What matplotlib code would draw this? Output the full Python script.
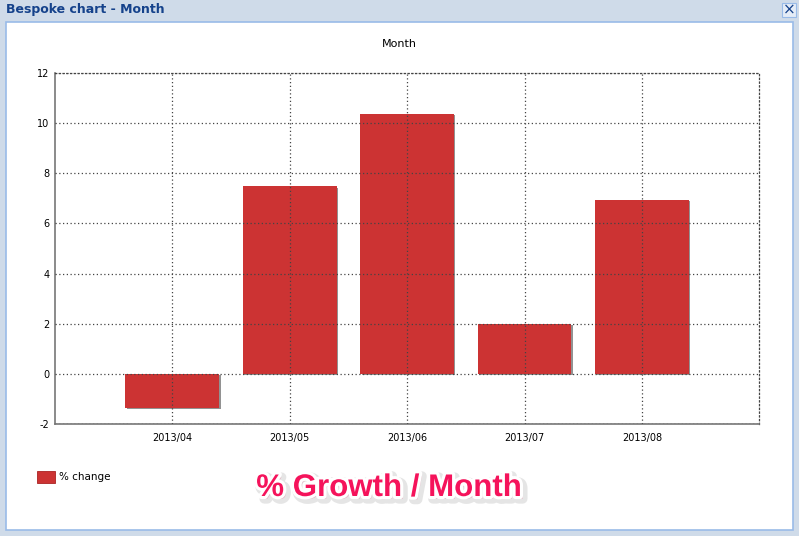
import matplotlib
matplotlib.use("Agg")
import matplotlib.pyplot as plt
import matplotlib.patheffects as pe
from matplotlib.patches import Rectangle

plt.rcParams["axes.unicode_minus"] = False

months = ["2013/04", "2013/05", "2013/06", "2013/07", "2013/08"]
pct_change = [-1.35, 7.48, 10.36, 2.0, 6.95]
y_ticks = [-2, 0, 2, 4, 6, 8, 10, 12]

W, H = 799, 536
fig = plt.figure(figsize=(W / 100, H / 100), dpi=100)
fig.patch.set_facecolor("#cfdbe9")

# window chrome
fig.patches.append(Rectangle((6 / W, 6 / H), 787 / W, 508 / H, transform=fig.transFigure,
                             facecolor="white", edgecolor="#99bbe8", linewidth=1.2, zorder=-5))
fig.text(6 / W, 1 - 10 / H, "Bespoke chart - Month", fontsize=9, fontweight="bold",
         color="#15428b", va="center", ha="left", family="DejaVu Sans")
fig.patches.append(Rectangle((782 / W, 1 - 17 / H), 14 / W, 14 / H, transform=fig.transFigure,
                             facecolor="#e4ecf7", edgecolor="#99bbe8", linewidth=0.8))
fig.text(789 / W, 1 - 10 / H, "×", fontsize=11, color="#15428b", ha="center", va="center")

# chart
ax = fig.add_axes([55 / W, 1 - 424.3 / H, 704.3 / W, 351.6 / H])
ax.set_zorder(2)
ax.patch.set_alpha(0)
x = list(range(len(months)))
bars = ax.bar(x, pct_change, width=0.8, color="#cc3333", edgecolor="none", zorder=1)
for b in bars:
    b.set_path_effects([pe.SimplePatchShadow(offset=(1, -1), shadow_rgbFace="#777777", alpha=0.8),
                        pe.Normal()])

ax.set_xlim(-1, 5)
ax.set_ylim(-2, 12)
ax.set_xticks(x)
ax.set_xticklabels(months)
ax.set_yticks(y_ticks)
ax.tick_params(length=0, labelsize=7, pad=6)
ax.tick_params(axis="y", pad=4)
ax.grid(True, linestyle=(0, (1, 2)), color="#444444", linewidth=0.9)
ax.set_axisbelow(False)

for s in ["left", "bottom"]:
    ax.spines[s].set_color("#777777")
    ax.spines[s].set_linewidth(1.2)
for s in ["top", "right"]:
    ax.spines[s].set_linestyle((0, (1, 2)))
    ax.spines[s].set_color("#444444")
    ax.spines[s].set_linewidth(0.9)

fig.text(399 / W, 1 - 44 / H, "Month", fontsize=8, ha="center", va="center")

# legend
fig.patches.append(Rectangle((37 / W, 1 - 483 / H), 18 / W, 12 / H, transform=fig.transFigure,
                             facecolor="#cc3333", edgecolor="#aa2222", linewidth=0.6))
fig.text(59 / W, 1 - 477 / H, "% change", fontsize=7.5, ha="left", va="center")

# caption
fig.text(389 / W, 1 - 488 / H, "% Growth / Month", fontsize=22.5, fontweight="bold",
         family="Liberation Sans", color="#f5135b", ha="center", va="center",
         path_effects=[pe.Stroke(linewidth=7, foreground="#999999", alpha=0.25, offset=(2, -2)),
                       pe.Stroke(linewidth=4.5, foreground="white"),
                       pe.Normal()])

fig.savefig("out.png", dpi=100, facecolor=fig.get_facecolor())
